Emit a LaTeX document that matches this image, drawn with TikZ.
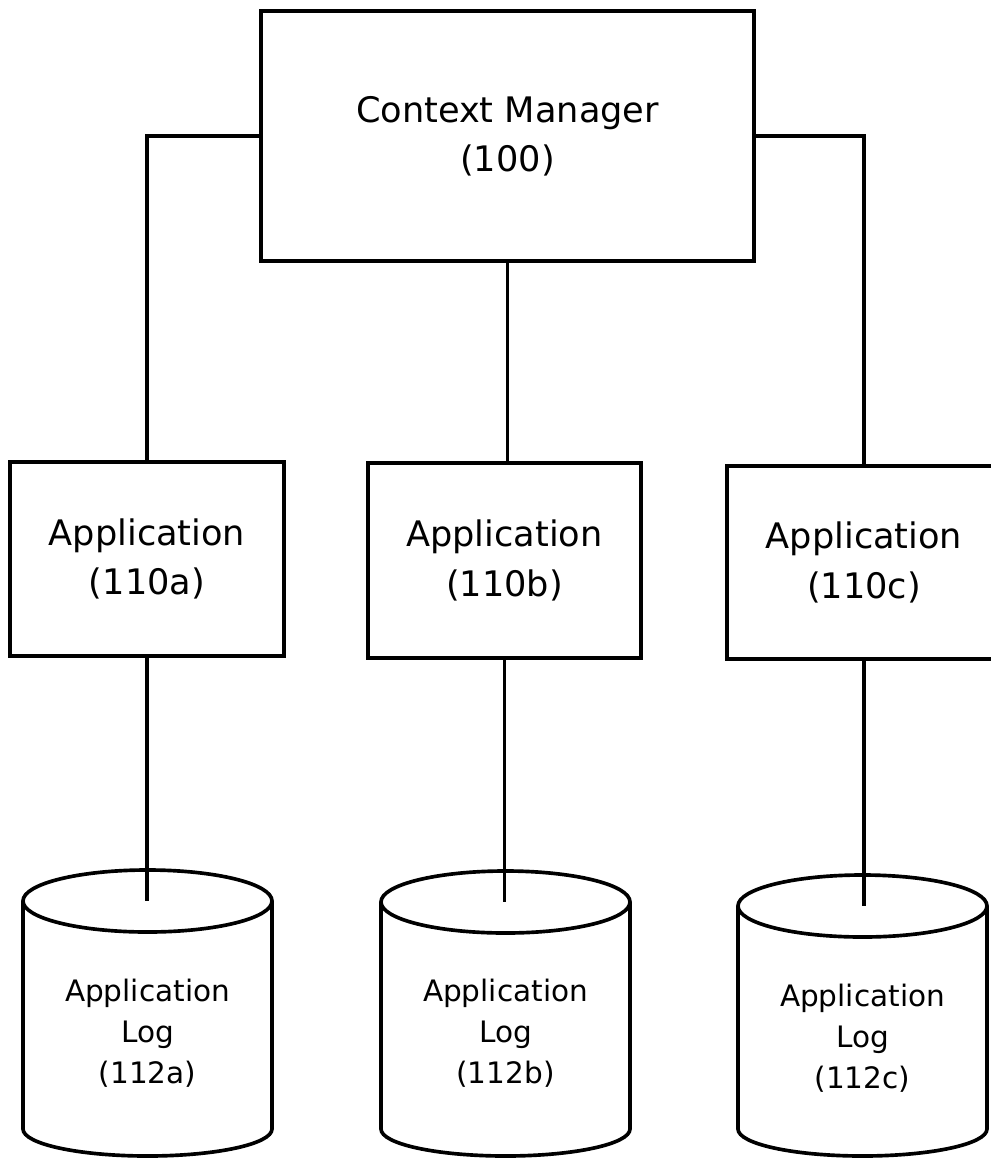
\documentclass[tikz,border=0pt]{standalone}
\usepackage{fontspec}
\setmainfont{DejaVu Sans}

\begin{document}
\begin{tikzpicture}[x=0.025cm,y=-0.025cm,line width=2.4pt,
    box/.style={draw,align=center,font=\fontsize{25}{35}\selectfont},
    logtext/.style={align=center,font=\fontsize{21}{29}\selectfont}]
  \useasboundingbox (0,0) rectangle (991,1159);

  \node[box,minimum width=12.325cm,minimum height=6.25cm] (cm) at (507.5,136)
    {Context Manager\\(100)};

  \node[box,minimum width=6.85cm,minimum height=4.85cm] (appa) at (147,559)
    {Application\\(110a)};
  \node[box,minimum width=6.825cm,minimum height=4.875cm] (appb) at (504.5,560.5)
    {Application\\(110b)};
  \node[box,minimum width=6.85cm,minimum height=4.825cm] (appc) at (864,562.5)
    {Application\\(110c)};

  % the three log cylinders
  \foreach \x/\y/\n in {147.5/901/a,505.5/902/b,862.5/906/c}{
    \draw[line width=2.6pt] (\x-124.5,\y) -- (\x-124.5,1129)
      arc[start angle=180,end angle=0,x radius=124.5,y radius=27]
      -- (\x+124.5,\y);
    \draw[line width=2.6pt] (\x,\y) ellipse[x radius=124.5,y radius=31];
    \coordinate (top\n) at (\x,\y);
  }

  \node[logtext] (loga) at (147.5,1033) {Application\\Log\\(112a)};
  \node[logtext] (logb) at (505.5,1033) {Application\\Log\\(112b)};
  \node[logtext] (logc) at (862.5,1038) {Application\\Log\\(112c)};

  \draw (cm.west) -| (appa.north);
  \draw (cm.east) -| (appc.north);
  \draw (cm.south) -- (cm.south |- appb.north);

  \draw (appa.south) -- (appa.south |- topa);
  \draw (appb.south) -- (appb.south |- topb);
  \draw (appc.south) -- (appc.south |- topc);
\end{tikzpicture}
\end{document}
